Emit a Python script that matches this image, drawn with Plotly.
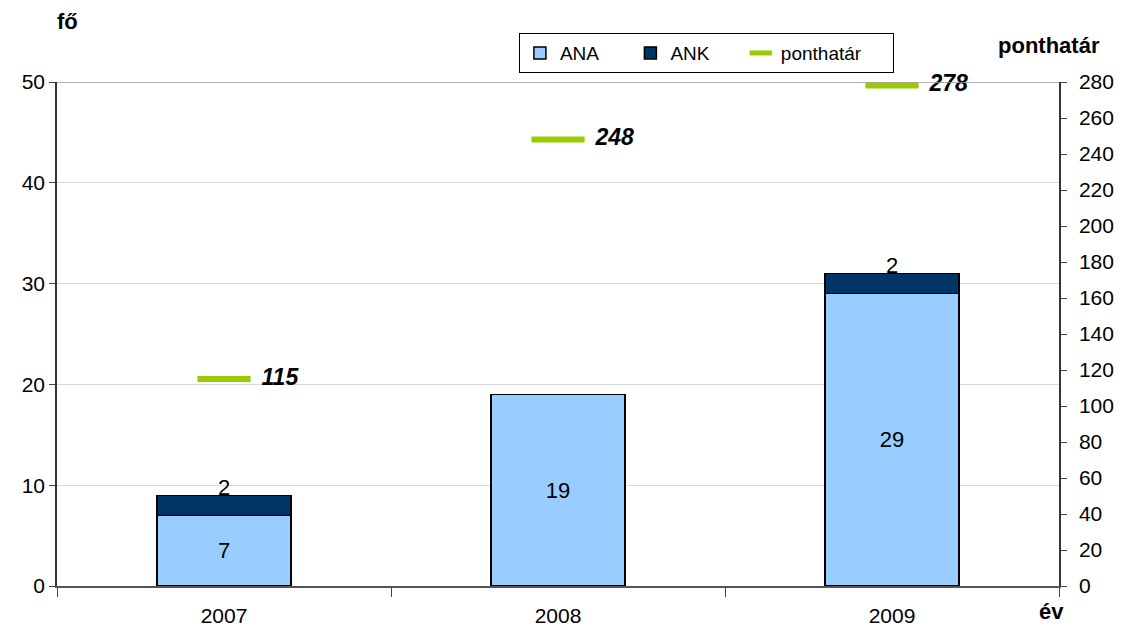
import plotly.graph_objects as go

# data
years = ['2007', '2008', '2009']
ana = [7, 19, 29]
ank = [2, 0, 2]
ponthatar = [115, 248, 278]

FONT = 'Liberation Sans, Arial, sans-serif'
NB = '\u00a0'

fig = go.Figure()

fig.add_trace(go.Bar(
    x=years, y=ana, name='ANA' + NB * 5,
    marker=dict(color='#99CCFF', line=dict(color='black', width=1.5)),
    width=0.4,
    text=[str(v) for v in ana], textposition='inside', insidetextanchor='middle',
    textfont=dict(size=22, color='black', family=FONT),
))
fig.add_trace(go.Bar(
    x=years, y=ank, name='ANK' + NB * 5,
    marker=dict(color='#003366', line=dict(color='black', width=1.5)),
    width=0.4,
))

# ponthatár marks on the secondary axis
fig.add_trace(go.Scatter(
    x=years, y=ponthatar, name='ponthatár' + NB * 5, yaxis='y2',
    mode='markers+text',
    marker=dict(symbol='line-ew', size=38, line=dict(color='#99CC00', width=6)),
    text=[NB * 2 + '<b><i>%d</i></b>' % v for v in ponthatar],
    textposition='middle right',
    textfont=dict(size=23, color='black', family=FONT),
    cliponaxis=False,
))

# page body has an 8px margin, so the figure is a bit smaller than the window
fig.update_layout(
    width=1110, height=622,
    margin=dict(l=49, r=59, t=74, b=44),
    barmode='stack',
    plot_bgcolor='white', paper_bgcolor='white',
    font=dict(family=FONT, size=21, color='black'),
    showlegend=True,
    legend=dict(
        orientation='h', x=0.461, y=1.097, xanchor='left', yanchor='top',
        bordercolor='black', borderwidth=1, bgcolor='white',
        font=dict(size=19), traceorder='normal',
    ),
    xaxis=dict(
        type='category', range=[-0.5, 2.5], tickson='boundaries', ticks='outside',
        ticklen=9, tickcolor='#444', showline=True, linecolor='#555', linewidth=1.5,
        showgrid=False, tickfont=dict(size=21), tickangle=0, automargin=False,
        ticklabelstandoff=10,
    ),
    yaxis=dict(
        range=[0, 50], dtick=10, ticks='outside', ticklen=6, tickcolor='#444',
        showline=True, linecolor='#333', linewidth=1.5,
        gridcolor='#D9D9D9', zeroline=False, tickfont=dict(size=21), automargin=False,
    ),
    yaxis2=dict(
        range=[0, 280], dtick=20, overlaying='y', side='right',
        ticks='outside', ticklen=6, tickcolor='#444',
        showline=True, linecolor='#333', linewidth=1.5,
        showgrid=False, zeroline=False, tickfont=dict(size=21), automargin=False,
        ticklabelstandoff=8,
    ),
    shapes=[dict(type='line', xref='paper', yref='y', x0=0, x1=1, y0=50, y1=50,
                 line=dict(color='#999999', width=1.5))],
)

# axis titles
fig.add_annotation(text='<b>fő</b>', xref='paper', yref='paper', x=0.01, y=1.12,
                   xanchor='center', yanchor='middle', showarrow=False, font=dict(size=22))
fig.add_annotation(text='<b>ponthatár</b>', xref='paper', yref='paper', x=0.99, y=1.073,
                   xanchor='center', yanchor='middle', showarrow=False, font=dict(size=22))
fig.add_annotation(text='<b>év</b>', xref='paper', yref='paper', x=0.993, y=-0.051,
                   xanchor='center', yanchor='middle', showarrow=False, font=dict(size=22))

# ANK labels sitting on the top edge of the stack (category index positions)
for i, (a, k) in enumerate(zip(ana, ank)):
    if k:
        fig.add_annotation(x=i, y=a + k, text=str(k), showarrow=False,
                           yshift=8, font=dict(size=22, color='black', family=FONT))

fig.write_html('out.html')
